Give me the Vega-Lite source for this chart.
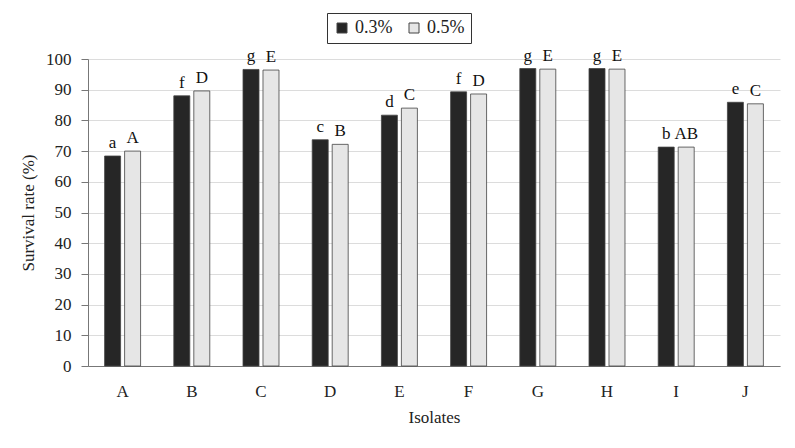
{
  "$schema": "https://vega.github.io/schema/vega-lite/v6.json",
  "width": 692,
  "height": 307,
  "autosize": {"type": "none"},
  "padding": {"left": 88, "top": 59, "right": 15, "bottom": 82},
  "background": "white",
  "config": {
    "font": "Liberation Serif",
    "view": {"stroke": null},
    "axis": {"labelFont": "Liberation Serif", "titleFont": "Liberation Serif", "labelColor": "#222", "titleColor": "#222"},
    "legend": {"labelFont": "Liberation Serif"}
  },
  "data": {
    "values": [
      {"isolate": "A", "conc": "0.3%", "rate": 68.4, "letter": "a"},
      {"isolate": "A", "conc": "0.5%", "rate": 70.0, "letter": "A"},
      {"isolate": "B", "conc": "0.3%", "rate": 88.0, "letter": "f"},
      {"isolate": "B", "conc": "0.5%", "rate": 89.6, "letter": "D"},
      {"isolate": "C", "conc": "0.3%", "rate": 96.6, "letter": "g"},
      {"isolate": "C", "conc": "0.5%", "rate": 96.4, "letter": "E"},
      {"isolate": "D", "conc": "0.3%", "rate": 73.7, "letter": "c"},
      {"isolate": "D", "conc": "0.5%", "rate": 72.2, "letter": "B"},
      {"isolate": "E", "conc": "0.3%", "rate": 81.7, "letter": "d"},
      {"isolate": "E", "conc": "0.5%", "rate": 84.0, "letter": "C"},
      {"isolate": "F", "conc": "0.3%", "rate": 89.3, "letter": "f"},
      {"isolate": "F", "conc": "0.5%", "rate": 88.6, "letter": "D"},
      {"isolate": "G", "conc": "0.3%", "rate": 96.9, "letter": "g"},
      {"isolate": "G", "conc": "0.5%", "rate": 96.7, "letter": "E"},
      {"isolate": "H", "conc": "0.3%", "rate": 96.9, "letter": "g"},
      {"isolate": "H", "conc": "0.5%", "rate": 96.7, "letter": "E"},
      {"isolate": "I", "conc": "0.3%", "rate": 71.3, "letter": "b"},
      {"isolate": "I", "conc": "0.5%", "rate": 71.3, "letter": "AB"},
      {"isolate": "J", "conc": "0.3%", "rate": 85.9, "letter": "e"},
      {"isolate": "J", "conc": "0.5%", "rate": 85.4, "letter": "C"}
    ]
  },
  "encoding": {
    "x": {
      "field": "isolate", "type": "nominal", "title": "Isolates",
      "scale": {"paddingInner": 0.48, "paddingOuter": 0.24},
      "axis": {"labelAngle": 0, "labelFontSize": 17, "titleFontSize": 17, "titleFontWeight": "normal",
               "ticks": false, "labelPadding": 17, "titlePadding": 10, "domainColor": "#777", "grid": false}
    },
    "xOffset": {"field": "conc", "type": "nominal", "scale": {"paddingInner": 0.2}},
    "y": {
      "field": "rate", "type": "quantitative", "title": "Survival rate (%)",
      "scale": {"domain": [0, 100]},
      "axis": {"values": [0, 10, 20, 30, 40, 50, 60, 70, 80, 90, 100], "labelFontSize": 17, "titleFontSize": 17,
               "titleFontWeight": "normal", "tickSize": 7, "tickColor": "#777", "domainColor": "#777",
               "gridColor": "#dcdcdc", "labelPadding": 10, "titlePadding": 8}
    }
  },
  "layer": [
    {
      "mark": {"type": "bar", "stroke": "#444", "strokeWidth": 0.8},
      "encoding": {
        "color": {
          "field": "conc", "type": "nominal",
          "scale": {"domain": ["0.3%", "0.5%"], "range": ["#262626", "#e6e6e6"]},
          "legend": {
            "title": null, "orient": "none", "legendX": 239, "legendY": -46, "direction": "horizontal",
            "symbolType": "square", "symbolSize": 100, "symbolStrokeColor": "#444", "symbolStrokeWidth": 1,
            "labelFont": "Liberation Serif", "labelFontSize": 18, "labelColor": "#222", "strokeColor": "#333",
            "padding": 6, "columnPadding": 12, "labelOffset": 4
          }
        }
      }
    },
    {
      "mark": {"type": "text", "baseline": "alphabetic", "dy": -8, "fontSize": 17, "color": "#111"},
      "encoding": {"text": {"field": "letter"}}
    }
  ]
}
